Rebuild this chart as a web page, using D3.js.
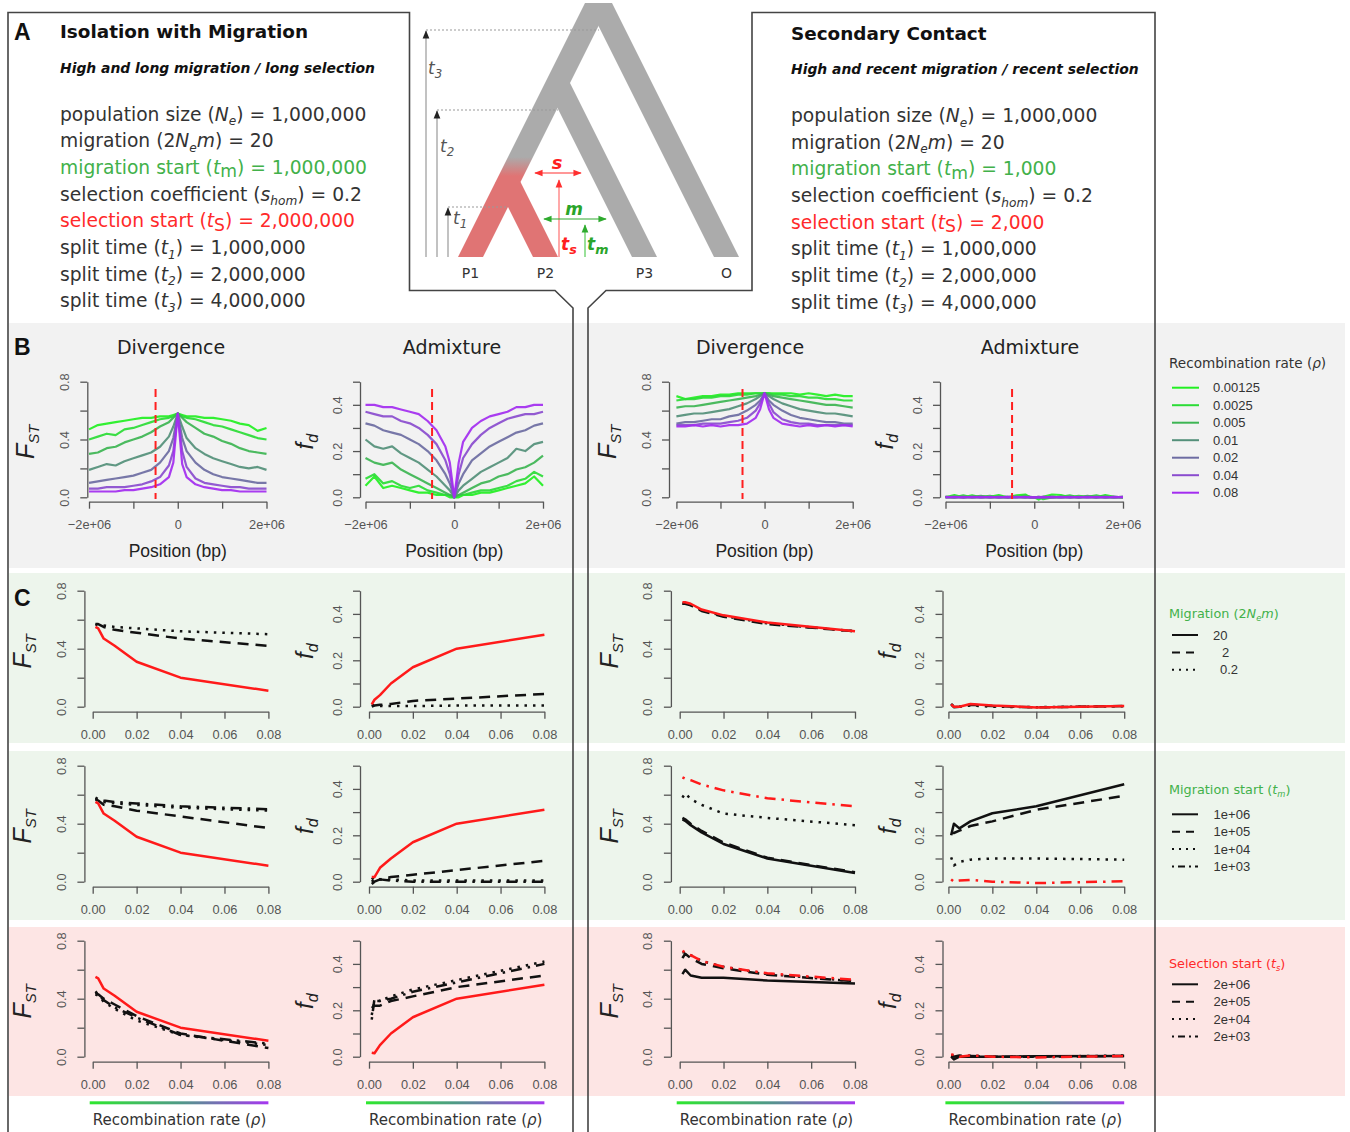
<!DOCTYPE html>
<html>
<head>
<meta charset="utf-8">
<script src="https://cdn.jsdelivr.net/npm/d3@7"></script>
<style>
  body { margin: 0; background: #fff; }
</style>
</head>
<body>
<svg id="fig" width="1350" height="1132"></svg>
<script>
// ---------- data ----------
// recombination rates used in panel B (one curve each)
const rhoLevels = ["0.00125", "0.0025", "0.005", "0.01", "0.02", "0.04", "0.08"];
const rhoColors = ["#22f022", "#2bdc36", "#3db553", "#54907a", "#6d6ca2", "#8a4cce", "#a32cf0"];

// positions along the chromosome (bp)
const posB = [-2000000, -1800000, -1600000, -1400000, -1200000, -1000000, -800000, -600000, -400000, -200000, -100000, 0,
  100000, 200000, 400000, 600000, 800000, 1000000, 1200000, 1400000, 1600000, 1800000, 2000000];
const selPos = -500000;

// B, isolation with migration: FST by rho
const fstIM = [
  [0.47, 0.50, 0.51, 0.52, 0.53, 0.54, 0.55, 0.55, 0.56, 0.56, 0.57, 0.58, 0.57, 0.56, 0.56, 0.55, 0.55, 0.54, 0.53, 0.51, 0.50, 0.46, 0.48],
  [0.40, 0.42, 0.44, 0.43, 0.47, 0.48, 0.50, 0.52, 0.54, 0.55, 0.56, 0.58, 0.56, 0.55, 0.54, 0.52, 0.50, 0.49, 0.47, 0.45, 0.43, 0.41, 0.40],
  [0.30, 0.31, 0.34, 0.35, 0.38, 0.40, 0.42, 0.45, 0.49, 0.52, 0.55, 0.58, 0.55, 0.52, 0.48, 0.44, 0.42, 0.39, 0.37, 0.34, 0.32, 0.31, 0.30],
  [0.19, 0.21, 0.23, 0.22, 0.25, 0.27, 0.29, 0.31, 0.35, 0.42, 0.49, 0.58, 0.49, 0.41, 0.34, 0.30, 0.27, 0.25, 0.23, 0.21, 0.20, 0.21, 0.19],
  [0.10, 0.11, 0.12, 0.13, 0.14, 0.15, 0.17, 0.19, 0.24, 0.32, 0.41, 0.58, 0.41, 0.32, 0.24, 0.19, 0.16, 0.14, 0.13, 0.12, 0.11, 0.10, 0.10],
  [0.06, 0.06, 0.07, 0.07, 0.07, 0.08, 0.09, 0.11, 0.14, 0.22, 0.32, 0.58, 0.32, 0.21, 0.13, 0.10, 0.09, 0.08, 0.07, 0.07, 0.06, 0.06, 0.06],
  [0.04, 0.04, 0.04, 0.04, 0.05, 0.05, 0.06, 0.07, 0.09, 0.14, 0.24, 0.58, 0.23, 0.14, 0.09, 0.07, 0.06, 0.05, 0.05, 0.04, 0.04, 0.04, 0.04]
];
// B, isolation with migration: fd by rho
const fdIM = [
  [0.05, 0.09, 0.04, 0.05, 0.04, 0.03, 0.02, 0.02, 0.01, 0.01, 0.00, 0.00, 0.00, 0.01, 0.01, 0.02, 0.02, 0.03, 0.04, 0.05, 0.06, 0.09, 0.05],
  [0.08, 0.10, 0.06, 0.07, 0.05, 0.04, 0.05, 0.03, 0.02, 0.01, 0.01, 0.00, 0.01, 0.01, 0.02, 0.03, 0.03, 0.04, 0.05, 0.07, 0.08, 0.11, 0.09],
  [0.17, 0.15, 0.14, 0.15, 0.12, 0.10, 0.08, 0.06, 0.04, 0.02, 0.01, 0.00, 0.01, 0.02, 0.04, 0.06, 0.07, 0.09, 0.10, 0.12, 0.13, 0.15, 0.18],
  [0.25, 0.22, 0.21, 0.22, 0.19, 0.17, 0.15, 0.12, 0.09, 0.05, 0.03, 0.00, 0.03, 0.05, 0.08, 0.11, 0.13, 0.15, 0.17, 0.21, 0.20, 0.23, 0.24],
  [0.32, 0.31, 0.29, 0.28, 0.27, 0.25, 0.23, 0.20, 0.16, 0.10, 0.06, 0.00, 0.06, 0.10, 0.16, 0.19, 0.22, 0.24, 0.26, 0.28, 0.29, 0.31, 0.32],
  [0.37, 0.36, 0.35, 0.35, 0.33, 0.32, 0.30, 0.27, 0.23, 0.16, 0.10, 0.00, 0.10, 0.17, 0.23, 0.27, 0.30, 0.32, 0.34, 0.35, 0.36, 0.36, 0.37],
  [0.40, 0.40, 0.39, 0.39, 0.38, 0.37, 0.36, 0.33, 0.29, 0.22, 0.15, 0.00, 0.15, 0.24, 0.30, 0.33, 0.35, 0.36, 0.37, 0.39, 0.39, 0.40, 0.40]
];
// B, secondary contact: FST by rho
const fstSC = [
  [0.70, 0.68, 0.69, 0.70, 0.70, 0.71, 0.71, 0.72, 0.72, 0.72, 0.72, 0.72, 0.72, 0.72, 0.72, 0.72, 0.71, 0.72, 0.71, 0.70, 0.71, 0.70, 0.70],
  [0.67, 0.68, 0.68, 0.69, 0.69, 0.70, 0.70, 0.71, 0.71, 0.72, 0.72, 0.72, 0.72, 0.71, 0.71, 0.70, 0.70, 0.69, 0.69, 0.68, 0.68, 0.67, 0.67],
  [0.62, 0.63, 0.63, 0.64, 0.65, 0.66, 0.67, 0.68, 0.69, 0.70, 0.71, 0.72, 0.71, 0.70, 0.69, 0.68, 0.67, 0.66, 0.65, 0.64, 0.64, 0.63, 0.62],
  [0.56, 0.57, 0.58, 0.58, 0.59, 0.60, 0.61, 0.63, 0.65, 0.68, 0.70, 0.72, 0.70, 0.68, 0.65, 0.63, 0.61, 0.60, 0.59, 0.58, 0.58, 0.57, 0.56],
  [0.51, 0.52, 0.52, 0.53, 0.54, 0.54, 0.56, 0.57, 0.60, 0.64, 0.67, 0.72, 0.67, 0.64, 0.60, 0.57, 0.55, 0.54, 0.53, 0.52, 0.52, 0.51, 0.51],
  [0.50, 0.50, 0.50, 0.51, 0.51, 0.51, 0.52, 0.53, 0.55, 0.60, 0.65, 0.72, 0.65, 0.59, 0.54, 0.52, 0.51, 0.51, 0.50, 0.50, 0.50, 0.50, 0.50],
  [0.49, 0.49, 0.50, 0.49, 0.50, 0.49, 0.50, 0.50, 0.51, 0.55, 0.61, 0.72, 0.61, 0.55, 0.51, 0.50, 0.49, 0.50, 0.49, 0.50, 0.49, 0.50, 0.49]
];
// B, secondary contact: fd by rho
const fdSC = [
  [0.000, 0.010, 0.000, 0.008, 0.000, 0.002, 0.010, 0.000, 0.008, 0.012, 0.000, 0.000, -0.010, 0.002, 0.012, 0.010, 0.000, 0.006, 0.002, 0.000, 0.010, 0.002, 0.000],
  [0.002, 0.000, 0.008, 0.000, 0.002, 0.006, 0.000, 0.002, 0.000, 0.008, 0.002, 0.000, 0.000, -0.008, 0.000, 0.002, 0.008, 0.000, 0.002, 0.008, 0.000, 0.002, 0.000],
  [0.000, 0.002, 0.000, 0.002, 0.006, 0.000, 0.002, 0.000, 0.002, 0.000, 0.002, 0.000, 0.002, 0.000, 0.002, 0.000, 0.002, 0.000, 0.006, 0.000, 0.002, 0.000, 0.002],
  [0.002, 0.000, 0.002, 0.000, 0.002, 0.000, 0.002, 0.000, 0.002, 0.000, 0.000, 0.000, 0.000, 0.002, 0.000, 0.002, 0.000, 0.002, 0.000, 0.002, 0.000, 0.002, 0.000],
  [0.000, 0.002, 0.000, 0.002, 0.000, 0.002, 0.000, 0.002, 0.000, 0.002, 0.000, 0.000, 0.000, 0.000, 0.002, 0.000, 0.002, 0.000, 0.002, 0.000, 0.002, 0.000, 0.002],
  [0.002, 0.000, 0.002, 0.000, 0.002, 0.000, 0.002, 0.000, 0.002, 0.000, 0.002, 0.000, 0.002, 0.000, 0.002, 0.000, 0.002, 0.000, 0.002, 0.000, 0.002, 0.000, 0.002],
  [0.000, 0.002, 0.000, 0.002, 0.000, 0.002, 0.000, 0.002, 0.000, 0.002, 0.000, 0.000, 0.000, 0.002, 0.000, 0.002, 0.000, 0.002, 0.000, 0.002, 0.000, 0.002, 0.000]
];

// panel C: recombination rates on the x axis
const rhoC = [0.00125, 0.0025, 0.005, 0.01, 0.02, 0.04, 0.08];
const migLevels = ["20", "2", "0.2"];
const tmLevels = ["1e+06", "1e+05", "1e+04", "1e+03"];
const tsLevels = ["2e+06", "2e+05", "2e+04", "2e+03"];

const fstMigIM = [
  [0.55, 0.54, 0.47, 0.42, 0.31, 0.20, 0.11],
  [0.57, 0.57, 0.55, 0.53, 0.51, 0.47, 0.42],
  [0.57, 0.56, 0.56, 0.55, 0.54, 0.52, 0.50]
];
const fdMigIM = [
  [0.01, 0.03, 0.05, 0.10, 0.17, 0.25, 0.31],
  [0.00, 0.005, 0.008, 0.012, 0.025, 0.035, 0.055],
  [0.01, 0.005, 0.003, 0.003, 0.003, 0.005, 0.005]
];
const fstMigSC = [
  [0.72, 0.72, 0.71, 0.67, 0.63, 0.58, 0.52],
  [0.71, 0.71, 0.70, 0.66, 0.62, 0.57, 0.52],
  [0.71, 0.71, 0.70, 0.665, 0.625, 0.575, 0.52]
];
const fdMigSC = [
  [0.010, 0.000, 0.000, 0.012, 0.005, -0.003, 0.003],
  [0.012, -0.002, 0.000, 0.008, 0.003, -0.003, 0.003],
  [0.008, 0.003, 0.000, 0.005, 0.000, -0.002, 0.002]
];
const fstTmIM = [
  [0.55, 0.54, 0.47, 0.42, 0.31, 0.20, 0.11],
  [0.57, 0.56, 0.53, 0.52, 0.49, 0.45, 0.37],
  [0.57, 0.56, 0.55, 0.54, 0.53, 0.51, 0.49],
  [0.58, 0.57, 0.56, 0.55, 0.54, 0.52, 0.50]
];
const fdTmIM = [
  [0.02, 0.02, 0.06, 0.10, 0.17, 0.25, 0.31],
  [-0.01, 0.00, 0.01, 0.02, 0.03, 0.05, 0.09],
  [0.00, 0.01, 0.01, 0.01, 0.005, 0.005, 0.005],
  [0.01, 0.02, 0.01, 0.005, 0.00, 0.00, 0.00]
];
const fstTmSC = [
  [0.43, 0.42, 0.39, 0.34, 0.26, 0.16, 0.06],
  [0.44, 0.43, 0.40, 0.35, 0.27, 0.165, 0.065],
  [0.58, 0.61, 0.57, 0.53, 0.47, 0.44, 0.39],
  [0.72, 0.71, 0.70, 0.67, 0.63, 0.575, 0.52]
];
const fdTmSC = [
  [0.20, 0.25, 0.23, 0.26, 0.295, 0.325, 0.42],
  [0.21, 0.21, 0.22, 0.24, 0.26, 0.31, 0.37],
  [0.105, 0.07, 0.085, 0.095, 0.10, 0.10, 0.095],
  [0.01, 0.00, 0.005, 0.008, 0.00, -0.006, 0.002]
];
const fstTsIM = [
  [0.55, 0.54, 0.47, 0.42, 0.31, 0.20, 0.11],
  [0.44, 0.43, 0.40, 0.36, 0.28, 0.16, 0.06],
  [0.43, 0.42, 0.38, 0.33, 0.25, 0.15, 0.08],
  [0.45, 0.43, 0.39, 0.34, 0.27, 0.15, 0.09]
];
const fdTsIM = [
  [0.017, 0.015, 0.05, 0.10, 0.17, 0.25, 0.31],
  [0.21, 0.22, 0.22, 0.24, 0.26, 0.30, 0.35],
  [0.18, 0.24, 0.24, 0.26, 0.29, 0.33, 0.41],
  [0.16, 0.25, 0.24, 0.25, 0.28, 0.32, 0.40]
];
const fstTsSC = [
  [0.57, 0.60, 0.56, 0.545, 0.545, 0.525, 0.505],
  [0.68, 0.71, 0.68, 0.64, 0.61, 0.565, 0.52],
  [0.72, 0.72, 0.70, 0.66, 0.62, 0.57, 0.52],
  [0.73, 0.72, 0.70, 0.66, 0.62, 0.575, 0.53]
];
const fdTsSC = [
  [0.000, -0.012, 0.000, 0.000, 0.000, 0.002, 0.003],
  [0.005, 0.000, 0.005, 0.003, 0.000, 0.000, 0.003],
  [0.005, 0.005, 0.000, 0.005, 0.000, 0.000, 0.005],
  [0.008, 0.010, 0.000, 0.005, 0.000, -0.003, 0.003]
];

// panel A parameter values
const valuesIM = ["1,000,000", "20", "1,000,000", "0.2", "2,000,000", "1,000,000", "2,000,000", "4,000,000"];
const valuesSC = ["1,000,000", "20", "1,000", "0.2", "2,000", "1,000,000", "2,000,000", "4,000,000"];

// ---------- drawing ----------
const GREEN = "#42b14a", RED = "#ff2a2a", TXT = "#333";
const SANS = "DejaVu Sans, Verdana, sans-serif";
const RFONT = "Liberation Sans, Arial, sans-serif";
const dashes = { solid: null, dashed: "11,7", dotted: "2.5,6", dotdash: "2.5,6,11,6" };
const legDashes = { solid: null, dashed: "8,6", dotted: "2,5", dotdash: "2,4,7,4" };

const svg = d3.select("#fig").attr("font-family", SANS);
const defs = svg.append("defs");

// background bands
svg.append("rect").attr("x", 9).attr("y", 323).attr("width", 1336).attr("height", 245).attr("fill", "#f2f2f2");
svg.append("rect").attr("x", 9).attr("y", 573).attr("width", 1336).attr("height", 170).attr("fill", "#edf5ec");
svg.append("rect").attr("x", 9).attr("y", 751).attr("width", 1336).attr("height", 169).attr("fill", "#edf5ec");
svg.append("rect").attr("x", 9).attr("y", 927).attr("width", 1336).attr("height", 169).attr("fill", "#fde5e4");

// frames
svg.append("path").attr("d", "M8,1132V12.5H409.5V290.5H555L573,308V1132")
  .attr("fill", "none").attr("stroke", "#444").attr("stroke-width", 1.6);
svg.append("path").attr("d", "M588,1132V308L606,290.5H752V12.5H1155V1132")
  .attr("fill", "none").attr("stroke", "#444").attr("stroke-width", 1.6);

// panel letters
[["A", 40], ["B", 355], ["C", 606]].forEach(([l, y]) => {
  svg.append("text").attr("x", 14).attr("y", y).text(l)
    .attr("font-family", RFONT).attr("font-weight", "bold").attr("font-size", 23).attr("fill", "#111");
});

// rich text helper (italic / subscript pieces)
function rich(parent, x, y, segs, size, color, anchor) {
  const t = parent.append("text").attr("x", x).attr("y", y).attr("font-size", size).attr("fill", color);
  if (anchor) t.attr("text-anchor", anchor);
  let shift = 0;
  segs.forEach(s => {
    const ts = t.append("tspan").text(s.t);
    const target = s.sub ? size * (s.sh || 0.25) : 0;
    if (target !== shift) { ts.attr("dy", target - shift); shift = target; }
    if (s.it) ts.attr("font-style", "italic");
    if (s.b) ts.attr("font-weight", "bold");
    if (s.sub) ts.attr("font-size", size * (s.sc || 0.65));
  });
  return t;
}

// ---------- panel A texts ----------
const paramLabels = [
  [{ t: "population size (" }, { t: "N", it: 1 }, { t: "e", it: 1, sub: 1 }, { t: ") = " }],
  [{ t: "migration (2" }, { t: "N", it: 1 }, { t: "e", it: 1, sub: 1 }, { t: "m", it: 1 }, { t: ") = " }],
  [{ t: "migration start (" }, { t: "t", it: 1 }, { t: "m", sub: 1, sc: 0.92, sh: 0.18 }, { t: ") = " }],
  [{ t: "selection coefficient (" }, { t: "s", it: 1 }, { t: "hom", it: 1, sub: 1 }, { t: ") = " }],
  [{ t: "selection start (" }, { t: "t", it: 1 }, { t: "S", sub: 1, sc: 0.92, sh: 0.18 }, { t: ") = " }],
  [{ t: "split time (" }, { t: "t", it: 1 }, { t: "1", it: 1, sub: 1 }, { t: ") = " }],
  [{ t: "split time (" }, { t: "t", it: 1 }, { t: "2", it: 1, sub: 1 }, { t: ") = " }],
  [{ t: "split time (" }, { t: "t", it: 1 }, { t: "3", it: 1, sub: 1 }, { t: ") = " }]
];
const paramColors = [TXT, TXT, GREEN, TXT, RED, TXT, TXT, TXT];

function scenario(x, y0, title, sub, values) {
  svg.append("text").attr("x", x).attr("y", y0).text(title)
    .attr("font-weight", "bold").attr("font-size", 18.4).attr("fill", "#111");
  svg.append("text").attr("x", x).attr("y", y0 + 34.5).text(sub)
    .attr("font-weight", "bold").attr("font-style", "italic").attr("font-size", 13.9).attr("fill", "#111");
  values.forEach((v, i) => {
    rich(svg, x, y0 + 82.5 + i * 26.65, paramLabels[i].concat([{ t: v }]), 18.7, paramColors[i]);
  });
}
scenario(60, 38.3, "Isolation with Migration", "High and long migration / long selection", valuesIM);
scenario(791, 39.5, "Secondary Contact", "High and recent migration / recent selection", valuesSC);

// ---------- tree diagram ----------
function marker(id, color) {
  defs.append("marker").attr("id", id).attr("viewBox", "0 0 10 10").attr("refX", 9).attr("refY", 5)
    .attr("markerWidth", 7).attr("markerHeight", 7).attr("orient", "auto-start-reverse")
    .append("path").attr("d", "M0,1L10,5L0,9Z").attr("fill", color);
}
marker("arGrey", "#222");
marker("arRed", "#ff3030");
marker("arGreen", "#2eaa2e");

const grad = defs.append("linearGradient").attr("id", "selGrad").attr("gradientUnits", "userSpaceOnUse")
  .attr("x1", 0).attr("y1", 157).attr("x2", 0).attr("y2", 176);
grad.append("stop").attr("offset", 0).attr("stop-color", "#ababab");
grad.append("stop").attr("offset", 1).attr("stop-color", "#e07474");

const tree = svg.append("g");
const poly = pts => "M" + pts.map(p => p.join(",")).join("L") + "Z";
tree.append("path").attr("d", poly([[632, 257], [657, 257], [570, 83], [545, 83]])).attr("fill", "#ababab");
tree.append("path").attr("d", poly([[714, 257], [739, 257], [612, 3], [587, 3]])).attr("fill", "#ababab");
tree.append("path").attr("d", poly([[458, 257], [483, 257], [610, 3], [585, 3]])).attr("fill", "url(#selGrad)");
tree.append("path").attr("d", poly([[533, 257], [558, 257], [520.5, 182], [495.5, 182]])).attr("fill", "url(#selGrad)");

const tips = ["P1", "P2", "P3", "O"];
const tipX = [470.5, 545.5, 644.5, 726.5];
tips.forEach((t, i) => tree.append("text").attr("x", tipX[i]).attr("y", 278).attr("text-anchor", "middle")
  .attr("font-size", 14).attr("fill", TXT).text(t));

// split-time arrows + dotted guide lines
const splits = [["1", 448, 207, 508, 453, 224], ["2", 437, 110, 558, 440, 152], ["3", 426, 30, 599, 428, 74]];
splits.forEach(([n, ax, ay, cx, lx, ly]) => {
  tree.append("line").attr("x1", ax).attr("y1", 257).attr("x2", ax).attr("y2", ay + 1)
    .attr("stroke", "#999").attr("stroke-width", 1.2).attr("marker-end", "url(#arGrey)");
  tree.append("line").attr("x1", ax).attr("y1", ay).attr("x2", cx).attr("y2", ay)
    .attr("stroke", "#999").attr("stroke-width", 1).attr("stroke-dasharray", "2,2");
  rich(tree, lx, ly, [{ t: "t", it: 1 }, { t: n, it: 1, sub: 1, sc: 0.7 }], 17, "#555");
});

// selection and migration markers
tree.append("line").attr("x1", 535).attr("y1", 173).attr("x2", 581).attr("y2", 173)
  .attr("stroke", "#ff3030").attr("stroke-width", 1.2)
  .attr("marker-start", "url(#arRed)").attr("marker-end", "url(#arRed)");
tree.append("text").attr("x", 557).attr("y", 169).attr("text-anchor", "middle").attr("font-size", 18)
  .attr("font-weight", "bold").attr("font-style", "italic").attr("fill", "#ff2020").text("s");
tree.append("line").attr("x1", 559).attr("y1", 257).attr("x2", 559).attr("y2", 180)
  .attr("stroke", "#ff7070").attr("stroke-width", 1.2).attr("marker-end", "url(#arRed)");
rich(tree, 561, 250, [{ t: "t", it: 1, b: 1 }, { t: "s", it: 1, b: 1, sub: 1, sc: 0.75 }], 17, "#ff2020");

tree.append("line").attr("x1", 544).attr("y1", 219).attr("x2", 606).attr("y2", 219)
  .attr("stroke", "#2eaa2e").attr("stroke-width", 1.2)
  .attr("marker-start", "url(#arGreen)").attr("marker-end", "url(#arGreen)");
tree.append("text").attr("x", 574).attr("y", 215).attr("text-anchor", "middle").attr("font-size", 17)
  .attr("font-weight", "bold").attr("font-style", "italic").attr("fill", "#2aa52a").text("m");
tree.append("line").attr("x1", 585).attr("y1", 257).attr("x2", 585).attr("y2", 225)
  .attr("stroke", "#5c5").attr("stroke-width", 1.2).attr("marker-end", "url(#arGreen)");
rich(tree, 587, 250, [{ t: "t", it: 1, b: 1 }, { t: "m", it: 1, b: 1, sub: 1, sc: 0.75 }], 17, "#2aa52a");

// ---------- plot helper ----------
function panel(o) {
  const g = svg.append("g");
  const x = d3.scaleLinear().domain(o.xDomain).range(o.xr);
  const y = d3.scaleLinear().domain([0, o.yMax]).range([o.y0, o.yTop]);
  const ya = g.append("g").attr("transform", `translate(${o.ax},0)`)
    .call(d3.axisLeft(y).tickValues(o.yTicks).tickSize(7).tickSizeOuter(0)
      .tickFormat(d => o.yLab.includes(d) ? d.toFixed(1) : ""));
  const xa = g.append("g").attr("transform", `translate(0,${o.xAxisY})`)
    .call(d3.axisBottom(x).tickValues(o.xTicks).tickSize(7).tickSizeOuter(0)
      .tickFormat(d => o.xLab.includes(d) ? o.xFmt(d) : ""));
  [ya, xa].forEach(a => {
    a.attr("font-family", RFONT).attr("font-size", 12.8);
    a.select(".domain").attr("stroke", "#555").attr("stroke-width", 1.3);
    a.selectAll(".tick line").attr("stroke", "#555").attr("stroke-width", 1.3);
    a.selectAll(".tick text").attr("fill", "#555");
  });
  ya.selectAll(".tick text").attr("transform", "rotate(-90)").attr("x", 0).attr("y", -18.5)
    .attr("dy", 0).attr("text-anchor", "middle");
  xa.selectAll(".tick text").attr("y", 18);

  const cy = (o.yTop + o.xAxisY) / 2;
  if (o.ylab === "FST") {
    const t = g.append("text").attr("transform", `translate(${o.ax - 53},${cy}) rotate(-90)`)
      .attr("text-anchor", "middle").attr("font-family", RFONT).attr("fill", "#222").attr("font-style", "italic");
    t.append("tspan").attr("font-size", 25).text("F");
    t.append("tspan").attr("font-size", 15).attr("dy", 5).text("ST");
  } else {
    const t = g.append("text").attr("transform", `translate(${o.ax - 47},${cy}) rotate(-90)`)
      .attr("text-anchor", "middle").attr("font-family", RFONT).attr("fill", "#222").attr("font-style", "italic");
    t.append("tspan").attr("font-size", 24).text("f");
    t.append("tspan").attr("font-size", 16).attr("dy", 5).text("d");
  }
  return { g, x, y };
}

// ---------- panel B ----------
const colsB = [
  { ax: 87.3, xr: [89, 266.5], ylab: "FST", data: fstIM, title: "Divergence", tx: 171 },
  { ax: 360, xr: [365.5, 543], ylab: "fd", data: fdIM, title: "Admixture", tx: 452 },
  { ax: 669, xr: [676.4, 852.7], ylab: "FST", data: fstSC, title: "Divergence", tx: 750 },
  { ax: 940, xr: [945.5, 1123], ylab: "fd", data: fdSC, title: "Admixture", tx: 1030 }
];
colsB.forEach(c => {
  const isF = c.ylab === "FST";
  const p = panel({
    ax: c.ax, xr: c.xr, y0: 497.3, yTop: 381.7, xAxisY: 501.7,
    xDomain: [-2000000, 2000000], xTicks: [-2000000, -1000000, 0, 1000000, 2000000],
    xLab: [-2000000, 0, 2000000], xFmt: d => d === 0 ? "0" : (d < 0 ? "\u22122e+06" : "2e+06"),
    yMax: isF ? 0.8 : 0.5, yTicks: isF ? [0, 0.2, 0.4, 0.6, 0.8] : [0, 0.1, 0.2, 0.3, 0.4, 0.5],
    yLab: isF ? [0, 0.4, 0.8] : [0, 0.2, 0.4], ylab: c.ylab
  });
  svg.append("text").attr("x", c.tx).attr("y", 354).attr("text-anchor", "middle")
    .attr("font-size", 19).attr("fill", "#222").text(c.title);
  svg.append("text").attr("x", (c.xr[0] + c.xr[1]) / 2).attr("y", 557).attr("text-anchor", "middle")
    .attr("font-family", RFONT).attr("font-size", 17.5).attr("fill", "#222").text("Position (bp)");
  const line = d3.line().x((d, i) => p.x(posB[i])).y(d => p.y(d));
  c.data.forEach((s, k) => {
    p.g.append("path").attr("d", line(s)).attr("fill", "none").attr("stroke", rhoColors[k])
      .attr("stroke-width", 2.2).attr("stroke-linejoin", "round").attr("stroke-opacity", 0.92);
  });
  p.g.append("line").attr("x1", p.x(selPos)).attr("x2", p.x(selPos)).attr("y1", 389).attr("y2", 499)
    .attr("stroke", "#ff1f1f").attr("stroke-width", 2).attr("stroke-dasharray", "8,5");
});

// recombination legend
rich(svg, 1169, 367.5, [{ t: "Recombination rate (" }, { t: "\u03c1", it: 1 }, { t: ")" }], 13.6, TXT);
rhoLevels.forEach((r, i) => {
  const yy = 387.7 + i * 17.5;
  svg.append("line").attr("x1", 1172).attr("x2", 1199).attr("y1", yy).attr("y2", yy)
    .attr("stroke", rhoColors[i]).attr("stroke-width", 2);
  svg.append("text").attr("x", 1213).attr("y", yy + 4.5).attr("font-family", RFONT)
    .attr("font-size", 13).attr("fill", TXT).text(r);
});

// ---------- panel C ----------
const colsC = [
  { ax: 84.4, xr: [92.7, 268.4], ylab: "FST" },
  { ax: 360, xr: [369, 544.4], ylab: "fd" },
  { ax: 670.9, xr: [679.7, 855], ylab: "FST" },
  { ax: 942.5, xr: [948.4, 1124.2], ylab: "fd" }
];
const rowsC = [
  { y0: 706.7, yTop: 590.7, xAxisY: 711.7, styles: ["solid", "dashed", "dotted"],
    data: [fstMigIM, fdMigIM, fstMigSC, fdMigSC], red: [0, 0, 0, 0] },
  { y0: 881.7, yTop: 765.7, xAxisY: 886.7, styles: ["solid", "dashed", "dotted", "dotdash"],
    data: [fstTmIM, fdTmIM, fstTmSC, fdTmSC], red: [0, 0, 3, 3] },
  { y0: 1056.7, yTop: 940.7, xAxisY: 1061.7, styles: ["solid", "dashed", "dotted", "dotdash"],
    data: [fstTsIM, fdTsIM, fstTsSC, fdTsSC], red: [0, 0, 3, 3] }
];
rowsC.forEach(r => {
  colsC.forEach((c, ci) => {
    const isF = c.ylab === "FST";
    const p = panel({
      ax: c.ax, xr: c.xr, y0: r.y0, yTop: r.yTop, xAxisY: r.xAxisY,
      xDomain: [0, 0.08], xTicks: [0, 0.02, 0.04, 0.06, 0.08], xLab: [0, 0.02, 0.04, 0.06, 0.08],
      xFmt: d3.format(".2f"),
      yMax: isF ? 0.8 : 0.5, yTicks: isF ? [0, 0.2, 0.4, 0.6, 0.8] : [0, 0.1, 0.2, 0.3, 0.4, 0.5],
      yLab: isF ? [0, 0.4, 0.8] : [0, 0.2, 0.4], ylab: c.ylab
    });
    const line = d3.line().x((d, i) => p.x(rhoC[i])).y(d => p.y(d));
    const series = r.data[ci];
    const order = d3.range(series.length).filter(k => k !== r.red[ci]).concat([r.red[ci]]);
    order.forEach(k => {
      p.g.append("path").attr("d", line(series[k])).attr("fill", "none")
        .attr("stroke", k === r.red[ci] ? "#ff1a1a" : "#111").attr("stroke-width", 2.5)
        .attr("stroke-dasharray", dashes[r.styles[k]]).attr("stroke-linejoin", "round");
    });
  });
});

// panel C legends
const legC = [
  { title: [{ t: "Migration (2" }, { t: "N", it: 1 }, { t: "e", it: 1, sub: 1 }, { t: "m", it: 1 }, { t: ")" }],
    color: GREEN, levels: migLevels, styles: ["solid", "dashed", "dotted"], ty: 613, iy: 635, lx: [1213, 1222, 1220] },
  { title: [{ t: "Migration start (" }, { t: "t", it: 1 }, { t: "m", it: 1, sub: 1 }, { t: ")" }],
    color: GREEN, levels: tmLevels, styles: ["solid", "dashed", "dotted", "dotdash"], ty: 789.3, iy: 814.3, lx: [1213.6, 1213.6, 1213.6, 1213.6] },
  { title: [{ t: "Selection start (" }, { t: "t", it: 1 }, { t: "s", it: 1, sub: 1 }, { t: ")" }],
    color: RED, levels: tsLevels, styles: ["solid", "dashed", "dotted", "dotdash"], ty: 963.3, iy: 984.3, lx: [1213.6, 1213.6, 1213.6, 1213.6] }
];
legC.forEach(L => {
  rich(svg, 1169, L.ty + 4.5, L.title, 12.8, L.color);
  L.levels.forEach((lv, i) => {
    const yy = L.iy + i * 17.4;
    svg.append("line").attr("x1", 1172).attr("x2", 1198).attr("y1", yy).attr("y2", yy)
      .attr("stroke", "#111").attr("stroke-width", 2).attr("stroke-dasharray", legDashes[L.styles[i]]);
    svg.append("text").attr("x", L.lx[i]).attr("y", yy + 4.5).attr("font-family", RFONT)
      .attr("font-size", 13).attr("fill", TXT).text(lv);
  });
});

// recombination colour bars under panel C
const barGrad = defs.append("linearGradient").attr("id", "rhoGrad");
barGrad.append("stop").attr("offset", 0).attr("stop-color", "#2ee82e");
barGrad.append("stop").attr("offset", 0.5).attr("stop-color", "#4f9a86");
barGrad.append("stop").attr("offset", 1).attr("stop-color", "#a636f0");
colsC.forEach(c => {
  svg.append("rect").attr("x", c.xr[0] - 3).attr("y", 1101.3).attr("width", c.xr[1] - c.xr[0] + 3).attr("height", 3)
    .attr("fill", "url(#rhoGrad)");
  rich(svg, (c.xr[0] + c.xr[1]) / 2 - 1, 1125, [{ t: "Recombination rate (" }, { t: "\u03c1", it: 1 }, { t: ")" }], 15, TXT, "middle");
});
</script>
</body>
</html>
